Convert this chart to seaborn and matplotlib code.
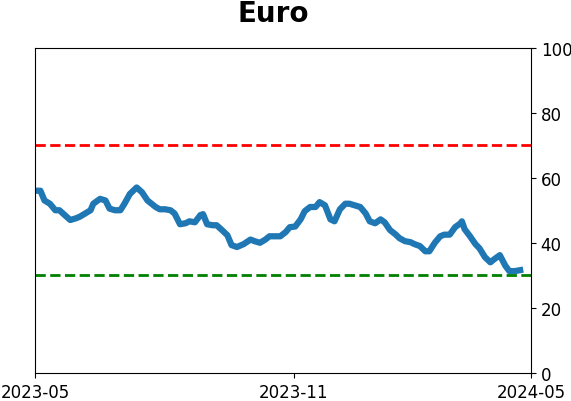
import matplotlib
matplotlib.use("Agg")
import matplotlib.pyplot as plt
import seaborn as sns
import pandas as pd

dates = [
    "2023-05-01", "2023-05-05", "2023-05-08", "2023-05-12", "2023-05-16", "2023-05-19",
    "2023-05-23", "2023-05-27", "2023-05-31", "2023-06-03", "2023-06-07", "2023-06-11",
    "2023-06-13", "2023-06-18", "2023-06-22", "2023-06-25", "2023-06-29", "2023-07-03",
    "2023-07-06", "2023-07-10", "2023-07-15", "2023-07-19", "2023-07-23", "2023-07-29",
    "2023-08-01", "2023-08-05", "2023-08-09", "2023-08-12", "2023-08-16", "2023-08-20",
    "2023-08-23", "2023-08-27", "2023-08-31", "2023-09-02", "2023-09-05", "2023-09-09",
    "2023-09-12", "2023-09-16", "2023-09-20", "2023-09-23", "2023-09-27", "2023-10-02",
    "2023-10-07", "2023-10-10", "2023-10-14", "2023-10-18", "2023-10-21", "2023-10-25",
    "2023-10-29", "2023-11-02", "2023-11-05", "2023-11-09", "2023-11-13", "2023-11-16",
    "2023-11-20", "2023-11-24", "2023-11-27", "2023-12-01", "2023-12-05", "2023-12-08",
    "2023-12-12", "2023-12-16", "2023-12-19", "2023-12-23", "2023-12-27", "2023-12-31",
    "2024-01-03", "2024-01-07", "2024-01-11", "2024-01-14", "2024-01-18", "2024-01-22",
    "2024-01-25", "2024-01-29", "2024-02-02", "2024-02-05", "2024-02-09", "2024-02-13",
    "2024-02-16", "2024-02-20", "2024-02-24", "2024-02-27", "2024-03-02", "2024-03-06",
    "2024-03-10", "2024-03-11", "2024-03-13", "2024-03-17", "2024-03-21", "2024-03-24",
    "2024-03-28", "2024-04-01", "2024-04-04", "2024-04-08", "2024-04-12", "2024-04-15",
    "2024-04-19", "2024-04-23",
]
values = [
    56.0, 56.0, 53.0, 52.0, 50.0, 50.0,
    48.5, 47.0, 47.5, 48.0, 49.0, 50.0,
    52.0, 53.5, 53.0, 50.5, 50.0, 50.0,
    52.0, 55.0, 57.0, 55.5, 53.0, 51.0,
    50.3, 50.3, 50.0, 49.0, 45.7, 46.0,
    46.6, 46.3, 48.5, 48.8, 45.7, 45.4,
    45.4, 43.9, 42.3, 39.3, 38.7, 39.6,
    41.0, 40.5, 40.0, 41.0, 42.0, 42.0,
    42.0, 43.3, 44.8, 45.0, 47.2, 49.7,
    51.0, 51.0, 52.5, 51.5, 47.2, 46.6,
    50.3, 52.0, 52.0, 51.5, 51.0, 49.0,
    46.6, 46.0, 47.2, 46.3, 43.9, 42.6,
    41.4, 40.5, 40.2, 39.6, 39.0, 37.4,
    37.4, 40.0, 42.0, 42.5, 42.5, 44.8,
    46.0, 46.6, 44.2, 42.0, 39.6, 38.3,
    35.6, 34.0, 35.0, 36.2, 33.0, 31.3,
    31.3, 31.6,
]
x_start = "2023-05-01"
x_end = "2024-05-01"
tick_dates = ["2023-05-01", "2023-11-08", "2024-05-01"]
tick_labels = ["2023-05", "2023-11", "2024-05"]
upper_level = 70
lower_level = 30
title = "Euro"

df = pd.DataFrame({"date": pd.to_datetime(dates), "value": values})

fig = plt.figure(figsize=(5.71, 4.02), dpi=100)
ax = fig.add_axes([35 / 571, 28 / 402, 496 / 571, 325.5 / 402])

sns.lineplot(data=df, x="date", y="value", ax=ax, color="#1f77b4", linewidth=4.5)
ax.axhline(upper_level, color="red", linestyle="--", linewidth=2)
ax.axhline(lower_level, color="green", linestyle="--", linewidth=2)

ax.set_xlim(pd.Timestamp(x_start), pd.Timestamp(x_end))
ax.set_ylim(0, 100)
ax.set_xticks(pd.to_datetime(tick_dates))
ax.set_xticklabels(tick_labels, fontsize=12)
ax.yaxis.tick_right()
ax.set_yticks([0, 20, 40, 60, 80, 100])
ax.tick_params(axis="y", labelsize=12)
ax.set_xlabel("")
ax.set_ylabel("")
ax.set_title(title, fontsize=20, fontweight="bold", pad=19, x=0.48)

fig.savefig("out.png", dpi=100)
